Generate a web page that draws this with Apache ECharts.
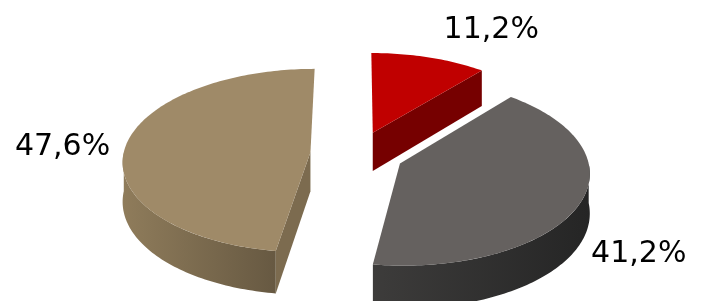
<!DOCTYPE html>
<html>
<head>
<meta charset="utf-8">
<script src="https://cdn.jsdelivr.net/npm/echarts@6/dist/echarts.min.js"></script>
<style>
  html, body { margin: 0; padding: 0; background: #fff; }
  #chart { width: 726px; height: 301px; }
</style>
</head>
<body>
<div id="chart"></div>
<script>
// slices, clockwise from 12 o'clock
var categories = ['Part 1', 'Part 2', 'Part 3'];
var shares = [11.2, 41.2, 47.6];
var labels = ['11,2%', '41,2%', '47,6%'];

// look of the tilted pie (rx / ry = screen radii, persp = how much the far side shrinks)
var pie = { cx: 357, cy: 154, rx: 187, ry: 92, depth: 39, explode: 0.25, persp: 0.09, labelR: 1.33 };
var colors = [
  { top: '#c00000', cut: '#760000', wall: ['#8a0000', '#660000'] },
  { top: '#65615f', cut: '#3a3a3a', wall: ['#3d3c3b', '#252525'] },
  { top: '#9f8a68', cut: '#7c6b4f', wall: ['#8f7c5b', '#675942'] }
];
// small label shifts, like the hand placed labels of the original
var labelShift = [[46, -6], [-3, 36], [-3, 4]];

var chart = echarts.init(document.getElementById('chart'));

var total = shares.reduce(function (s, v) { return s + v; }, 0);

// X to the right, Z away from the viewer (unit radius), h = pixels downward
function project(X, Z, h) {
  var s = 1 - pie.persp * Z;
  return [pie.cx + pie.rx * X * s, pie.cy + (-pie.ry * Z + (h || 0)) * s];
}

function renderSlice(params, api) {
  var i = params.dataIndex;
  var before = 0;
  for (var j = 0; j < i; j++) before += shares[j];
  var a0 = before / total * Math.PI * 2;
  var a1 = (before + api.value(0)) / total * Math.PI * 2;
  var mid = (a0 + a1) / 2;
  var oX = pie.explode * Math.sin(mid);
  var oZ = pie.explode * Math.cos(mid);
  var c = colors[i];

  function pt(a, h, r) {
    r = r == null ? 1 : r;
    return project(oX + r * Math.sin(a), oZ + r * Math.cos(a), h);
  }
  function arc(from, to, h) {
    var pts = [];
    var n = Math.max(2, Math.ceil(Math.abs(to - from) / 0.02));
    for (var k = 0; k <= n; k++) pts.push(pt(from + (to - from) * k / n, h));
    return pts;
  }
  var o = project(oX, oZ, 0), ob = project(oX, oZ, pie.depth);

  var children = [];
  // rim: only the part that faces the viewer
  var w0 = Math.max(a0, Math.PI / 2), w1 = Math.min(a1, Math.PI * 1.5);
  if (w1 > w0) {
    children.push({
      type: 'polygon',
      shape: { points: arc(w0, w1, 0).concat(arc(w1, w0, pie.depth)) },
      style: {
        fill: new echarts.graphic.LinearGradient(0, 0, 1, 0, [
          { offset: 0, color: c.wall[0] }, { offset: 1, color: c.wall[1] }
        ])
      }
    });
  }
  // cut faces turned towards the viewer
  if (Math.sin(a0) < -1e-6) {
    children.push({
      type: 'polygon',
      shape: { points: [o, pt(a0, 0), pt(a0, pie.depth), ob] },
      style: { fill: c.cut }
    });
  }
  if (Math.sin(a1) > 1e-6) {
    children.push({
      type: 'polygon',
      shape: { points: [o, pt(a1, 0), pt(a1, pie.depth), ob] },
      style: { fill: c.cut }
    });
  }
  // top
  children.push({
    type: 'polygon',
    shape: { points: [o].concat(arc(a0, a1, 0)) },
    style: { fill: c.top }
  });
  // label
  var lp = pt(mid, 0, pie.labelR);
  children.push({
    type: 'text',
    x: lp[0] + labelShift[i][0],
    y: lp[1] + labelShift[i][1],
    style: {
      text: labels[i],
      fill: '#000',
      font: '30px "DejaVu Sans"',
      align: 'center',
      verticalAlign: 'middle'
    }
  });

  return { type: 'group', children: children };
}

chart.setOption({
  animation: false,
  backgroundColor: '#fff',
  series: [{
    type: 'custom',
    name: 'share',
    coordinateSystem: 'none',
    renderItem: renderSlice,
    data: shares.map(function (v, i) { return { name: categories[i], value: [v] }; })
  }]
});
</script>
</body>
</html>
